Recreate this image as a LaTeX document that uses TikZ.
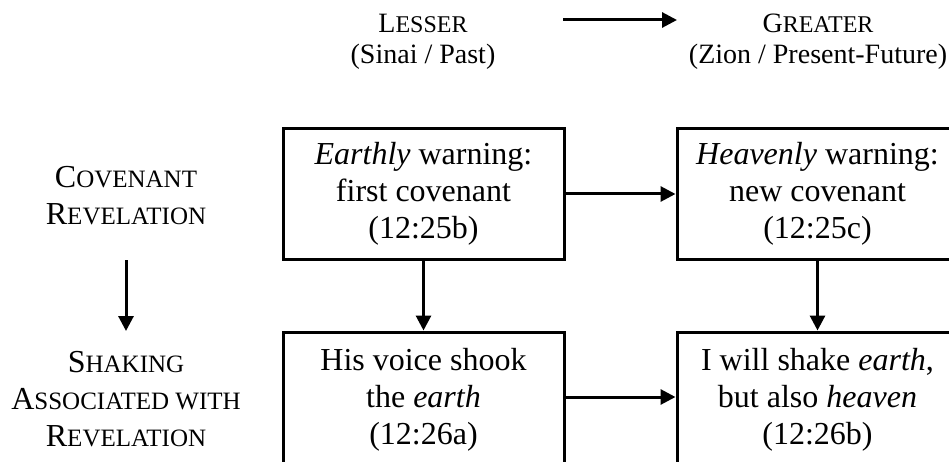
\documentclass[tikz,border=0pt]{standalone}
\usepackage{fontspec}
\setmainfont{Liberation Serif}
\usetikzlibrary{arrows.meta}

% faked small capitals: first letter full size, the rest reduced
\newcommand\bigsc[2]{#1{\fontsize{25}{37}\selectfont #2}}
\newcommand\topsc[2]{#1{\fontsize{24}{31}\selectfont #2}}

\begin{document}
\begin{tikzpicture}[x=1pt,y=-1pt,
  boxtext/.style={font=\fontsize{32}{37}\selectfont, align=center},
  toptext/.style={font=\fontsize{28}{31}\selectfont, align=center},
  cell/.style={boxtext, draw, line width=3pt, minimum width=281pt, inner sep=0pt},
  link/.style={line width=3pt, -{Triangle[length=15pt,width=15pt]}}]
\useasboundingbox (0,0) rectangle (949,462);

% column headings
\node[toptext] (lesser) at (423,42) {\topsc{L}{ESSER}\\(Sinai / Past)};
\node[toptext] (greater) at (818,42) {\topsc{G}{REATER}\\(Zion / Present-Future)};
\coordinate (ha) at (563,20);
\coordinate (hb) at (677,20);
\draw[link] (ha) -- (hb);

% row headings
\node[boxtext] (cov) at (126,196) {\bigsc{C}{OVENANT}\\\bigsc{R}{EVELATION}};
\node[boxtext] (shk) at (126,399) {\bigsc{S}{HAKING}\\\bigsc{A}{SSOCIATED WITH}\\\bigsc{R}{EVELATION}};
\coordinate (va) at (126,260);
\coordinate (vb) at (126,331);
\draw[link] (va) -- (vb);

% the four cells; the lower ones run past the bottom edge
\node[cell, minimum height=130pt] (b1) at (423.5,194) {\textit{Earthly} warning:\\first covenant\\(12:25b)};
\node[cell, minimum height=130pt] (b2) at (817.5,194) {\textit{Heavenly} warning:\\new covenant\\(12:25c)};
\node[cell, minimum height=136pt] (b3) at (423.5,400) {His voice shook\\the \textit{earth}\\(12:26a)};
\node[cell, minimum height=136pt] (b4) at (817.5,400) {I will shake \textit{earth},\\but also \textit{heaven}\\(12:26b)};

% connectors between the cells
\draw[link] (b1.east) -- (b2.west);
\draw[link] ([yshift=3pt]b3.east) -- ([yshift=3pt]b4.west);
\draw[link] (b1) -- (b3);
\draw[link] (b2) -- (b4);
\end{tikzpicture}
\end{document}
